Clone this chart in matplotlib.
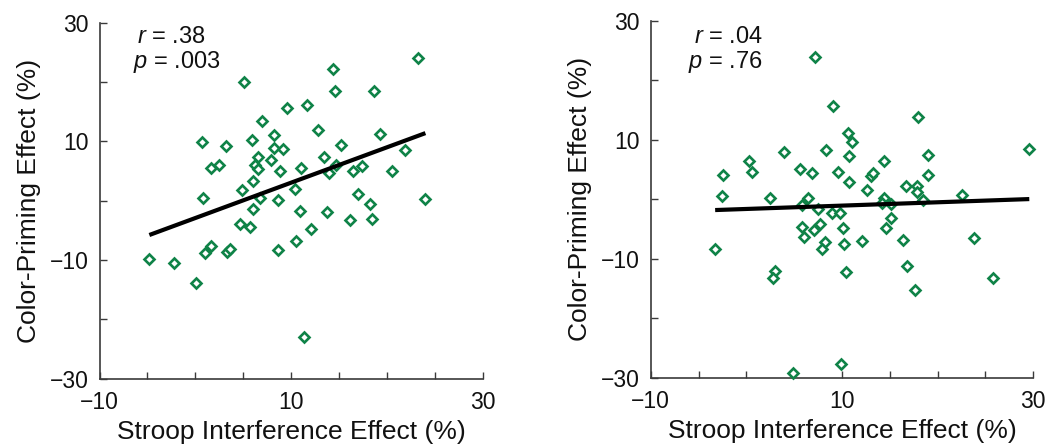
import matplotlib
matplotlib.use("Agg")
import matplotlib.pyplot as plt
import numpy as np

plt.rcParams['font.family'] = ['Liberation Sans', 'DejaVu Sans']
plt.rcParams['mathtext.fontset'] = 'custom'
plt.rcParams['mathtext.rm'] = 'Liberation Sans'
plt.rcParams['mathtext.it'] = 'Liberation Sans:italic'

# ---------------- data ----------------
left_x = [23.28, 14.41, 5.05, 14.55, 18.68, 9.54, 11.66, 6.93, 12.81, 8.22,
          19.28, 0.67, 5.95, 3.17, 15.24, 8.22, 9.19, 21.86, 6.58, 13.40,
          7.90, 1.64, 2.51, 6.23, 6.55, 8.87, 11.06, 13.92, 14.66, 16.49,
          17.43, 20.53, 6.05, 4.91, 10.38, 16.98, 0.77, 6.75, 8.66, 18.27,
          24.01, 6.02, 10.90, 13.78, 16.12, 18.41, 4.63, 5.68, 12.08, 1.64,
          1.04, 3.28, 3.65, 8.66, 10.51, -4.80, -2.22, 0.04, 11.38]
left_y = [24.0, 22.2, 20.06, 18.49, 18.49, 15.67, 16.13, 13.38, 11.97, 11.07,
          11.29, 9.94, 10.18, 9.27, 9.44, 8.83, 8.76, 8.49, 7.41, 7.41,
          6.86, 5.56, 6.02, 6.07, 5.29, 5.0, 5.51, 4.62, 5.97, 5.05,
          5.80, 5.05, 3.37, 1.8, 1.97, 1.13, 0.40, 0.40, 0.12, -0.56,
          0.23, -1.45, -1.74, -1.91, -3.31, -3.09, -3.98, -4.49, -4.72, -7.64,
          -8.87, -8.60, -8.19, -8.36, -6.79, -9.78, -10.45, -13.92, -22.92]

right_x = [7.21, 9.06, 17.95, 10.63, 11.08, 3.90, 8.36, 29.58, 10.76, 18.99,
           0.31, 14.42, -2.41, 0.62, 5.64, 6.89, 9.55, 13.06, 13.27, 18.99,
           10.76, 12.65, 16.66, 17.84, 17.84, -2.55, 22.55, 2.47, 6.48, 5.79,
           14.36, 14.21, 15.09, 18.44, 7.52, 8.92, 9.79, 15.15, 5.79, 7.04,
           7.65, 10.07, 14.65, 6.03, 8.22, 7.88, 10.21, 12.09, 16.38, 23.85,
           -3.26, 3.03, 2.75, 10.39, 16.83, 25.76, 17.66, 9.93, 4.91]
right_y = [23.95, 15.61, 13.76, 11.08, 9.56, 7.98, 8.27, 8.49, 7.31, 7.38,
           6.37, 6.37, 4.12, 4.52, 5.03, 4.35, 4.57, 3.95, 4.35, 4.12,
           2.89, 1.55, 2.27, 2.17, 1.29, 0.62, 0.71, 0.15, 0.15, -0.97,
           0.15, -0.59, -0.81, -0.08, -1.70, -2.37, -2.37, -3.11, -4.67, -5.18,
           -4.22, -4.92, -4.92, -6.30, -7.11, -8.42, -7.45, -7.03, -6.77, -6.52,
           -8.42, -12.02, -13.29, -12.29, -11.18, -13.24, -15.26, -27.75, -29.16]

# regression lines (slope, intercept)
left_fit = (0.596, -2.92)
right_fit = (0.0562, -1.636)

left_stats = ("$r$ = .38", "$p$ = .003")
right_stats = ("$r$ = .04", "$p$ = .76")

x_ticks = [-10, -5, 0, 5, 10, 15, 20, 25, 30]
x_tick_labels = ['\u221210', '', '', '', '10', '', '', '', '30']
y_ticks = [-30, -20, -10, 0, 10, 20, 30]
y_tick_labels = ['\u221230', '', '\u221210', '', '10', '', '30']

x_label = "Stroop Interference Effect (%)"
y_label = "Color-Priming Effect (%)"

GREEN = '#0F8347'
SPINE = '#3a3a3a'
TEXT = '#111111'

fig = plt.figure(figsize=(10.5, 4.45), dpi=100)
ax1 = fig.add_axes([0.0948, 0.149, 0.365, 0.800])
ax2 = fig.add_axes([0.6197, 0.1512, 0.3644, 0.8022])


def style(ax):
    ax.set_xlim(-10, 30)
    ax.set_ylim(-30, 30)
    for s in ['top', 'right']:
        ax.spines[s].set_visible(False)
    for s in ['left', 'bottom']:
        ax.spines[s].set_color(SPINE)
        ax.spines[s].set_linewidth(1.2)
    ax.set_xticks(x_ticks)
    ax.set_xticklabels(x_tick_labels)
    ax.set_yticks(y_ticks)
    ax.set_yticklabels(y_tick_labels)
    ax.tick_params(axis='both', direction='in', length=5, width=1.0,
                   color=SPINE, labelsize=16.5, labelcolor=TEXT)
    ax.tick_params(axis='x', pad=9)
    ax.tick_params(axis='y', pad=8)
    ax.set_xlabel(x_label, fontsize=19, color=TEXT, labelpad=4)
    ax.set_ylabel(y_label, fontsize=19, color=TEXT, labelpad=6)


def panel(ax, xs, ys, fit):
    xs = np.asarray(xs)
    ys = np.asarray(ys)
    ax.plot(xs, ys, linestyle='none', marker='D', markersize=4.7,
            markerfacecolor='white', markeredgecolor=GREEN,
            markeredgewidth=1.9, clip_on=False, zorder=3)
    lx = np.array([xs.min(), xs.max()])
    ax.plot(lx, fit[0] * lx + fit[1], color='black', linewidth=3.0,
            solid_capstyle='butt', zorder=4)


style(ax1)
style(ax2)
panel(ax1, left_x, left_y, left_fit)
panel(ax2, right_x, right_y, right_fit)

ax1.text(-6.09, 26.5, left_stats[0], fontsize=17, ha='left', va='baseline', color=TEXT)
ax1.text(-6.5, 22.3, left_stats[1], fontsize=17, ha='left', va='baseline', color=TEXT)
ax2.text(1.71, 26.2, right_stats[0], fontsize=17, ha='right', va='baseline', color=TEXT)
ax2.text(1.71, 22.0, right_stats[1], fontsize=17, ha='right', va='baseline', color=TEXT)

fig.savefig('out.png', dpi=100)
